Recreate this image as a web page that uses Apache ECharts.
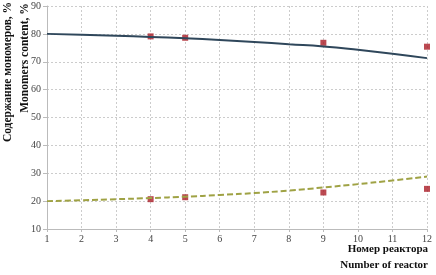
<!DOCTYPE html>
<html><head><meta charset="utf-8">
<script src="https://cdn.jsdelivr.net/npm/echarts@6/dist/echarts.min.js"></script>
<style>html,body{margin:0;padding:0;background:#fff}#c{width:436px;height:275px}</style>
</head><body><div id="c"></div>
<script>
const reactors = [1,2,3,4,5,6,7,8,9,10,11,12];
const upperLine = [80,79.7,79.3,78.9,78.4,77.8,77.1,76.3,75.5,74.3,72.9,71.3];
const lowerLine = [20,20.3,20.7,21.1,21.6,22.2,22.9,23.8,24.9,26.1,27.4,28.8];
const pointX = [4,5,9,12];
const upperPoints = [79.1,78.6,76.8,75.4];
const lowerPoints = [20.7,21.4,23.1,24.4];
const yTitle = ['Содержание мономеров, %','Monomers content, %'];
const xTitle = ['Номер реактора','Number of reactor'];

const zip = (xs, ys) => xs.map((x,i)=>[x, ys[i]]);
const serif = '"Liberation Serif","DejaVu Serif",serif';
const chart = echarts.init(document.getElementById('c'));
chart.setOption({
  animation:false,
  grid:{left:47,right:9,top:6,bottom:46},
  xAxis:{type:'value',min:1,max:12,interval:1,
    axisLine:{lineStyle:{color:'#bbb'}},
    axisTick:{show:true,length:3,lineStyle:{color:'#bbb'}},
    axisLabel:{color:'#444',fontFamily:serif,fontSize:10,margin:5},
    splitLine:{show:true,lineStyle:{color:'#ccc',type:[2,2]}}},
  yAxis:{type:'value',min:10,max:90,interval:10,
    axisLine:{show:true,lineStyle:{color:'#bbb'}},
    axisTick:{show:true,length:4,lineStyle:{color:'#bbb'}},
    axisLabel:{color:'#444',fontFamily:serif,fontSize:10,margin:6},
    splitLine:{show:true,lineStyle:{color:'#ccc',type:[2,2]}}},
  series:[
    {type:'line',data:zip(reactors,upperLine),smooth:true,symbol:'none',
      lineStyle:{color:'#2f475b',width:2}},
    {type:'line',data:zip(reactors,lowerLine),smooth:true,symbol:'none',
      lineStyle:{color:'#9fa244',width:2,type:[6,3]}},
    {type:'scatter',data:zip(pointX,upperPoints),symbol:'rect',symbolSize:6,
      itemStyle:{color:'#aa1c26'}},
    {type:'scatter',data:zip(pointX,lowerPoints),symbol:'rect',symbolSize:6,
      itemStyle:{color:'#aa1c26'}}
  ],
  graphic:[
    {type:'text',x:8,y:72,rotation:Math.PI/2,style:{text:yTitle[0],font:'bold 11.5px '+serif,fill:'#111',align:'center',verticalAlign:'middle'}},
    {type:'text',x:25,y:58,rotation:Math.PI/2,style:{text:yTitle[1],font:'bold 11.5px '+serif,fill:'#111',align:'center',verticalAlign:'middle'}},
    {type:'text',x:428,y:249,style:{text:xTitle[0],font:'bold 11px '+serif,fill:'#111',align:'right',verticalAlign:'middle'}},
    {type:'text',x:428,y:265,style:{text:xTitle[1],font:'bold 11px '+serif,fill:'#111',align:'right',verticalAlign:'middle'}}
  ]
});
</script></body></html>
